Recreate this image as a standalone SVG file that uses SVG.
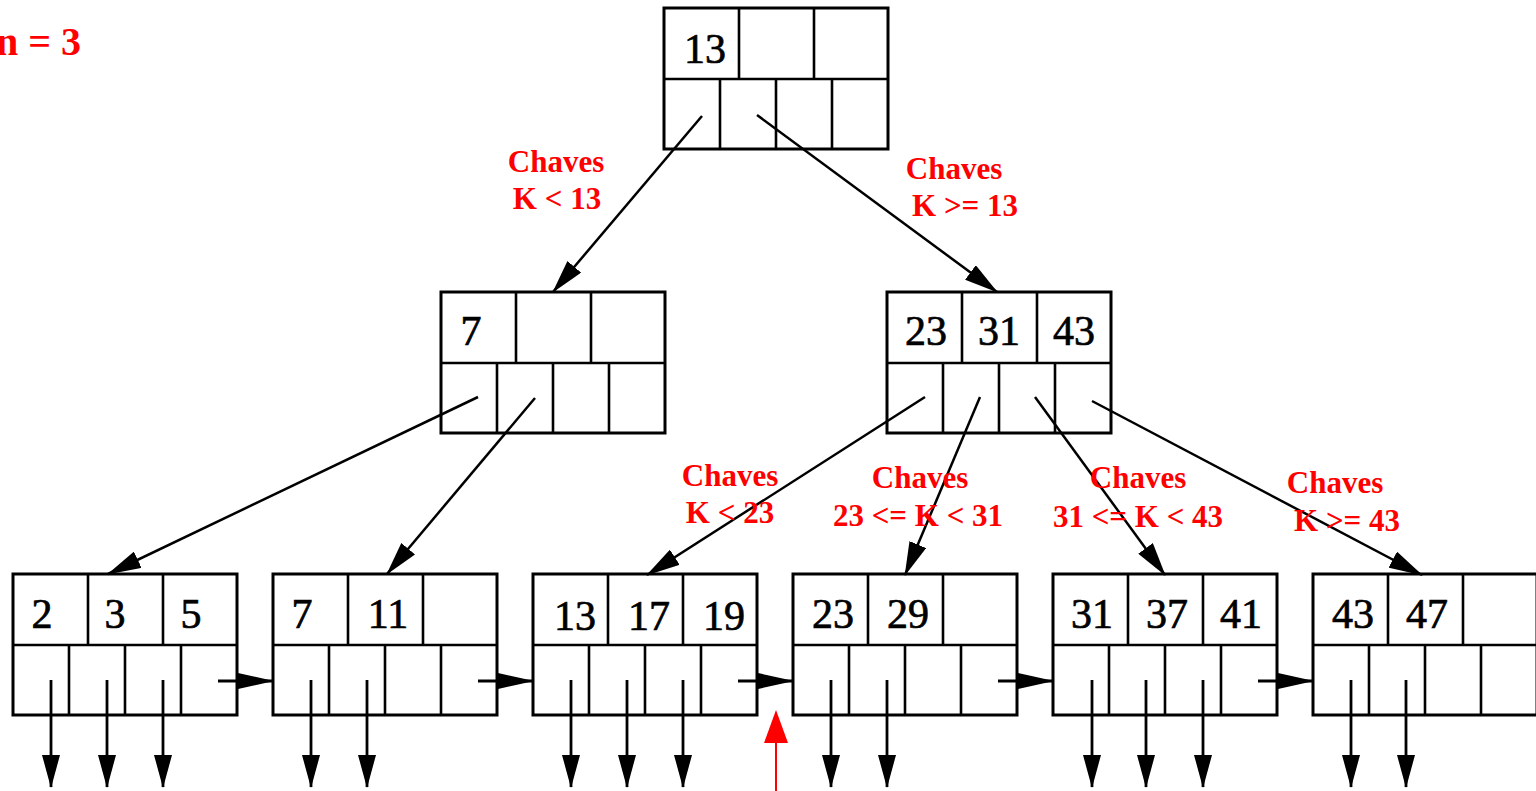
<svg xmlns="http://www.w3.org/2000/svg" width="1536" height="791" viewBox="0 0 1536 791">
  <style>
    .box { fill: #fff; stroke: #000; stroke-width: 3; }
    .div { stroke: #000; stroke-width: 2.6; fill: none; }
    .key { font-family: "Liberation Serif", "Times New Roman", serif; font-size: 42px; fill: #000; stroke: #000; stroke-width: 0.7; text-anchor: middle; }
    .lbl { font-family: "Liberation Serif", "Times New Roman", serif; font-size: 31px; font-weight: bold; fill: #ff0000; text-anchor: middle; }
    .edge { stroke: #000; stroke-width: 2.5; fill: none; }
    .ptr { stroke: #000; stroke-width: 2.8; fill: none; }
  </style>
  <defs>
    <marker id="tip" markerUnits="userSpaceOnUse" markerWidth="34" markerHeight="18" refX="33" refY="9" orient="auto">
      <path d="M0,0 L34,9 L0,18 z" fill="#000"/>
    </marker>
    <marker id="down" markerUnits="userSpaceOnUse" markerWidth="33" markerHeight="18" refX="32" refY="9" orient="auto">
      <path d="M0,0 L33,9 L0,18 z" fill="#000"/>
    </marker>
    <marker id="next" markerUnits="userSpaceOnUse" markerWidth="36" markerHeight="16" refX="35" refY="8" orient="auto">
      <path d="M0,0 L36,8 L0,16 z" fill="#000"/>
    </marker>
    <!-- a node: 3 key cells on top, 4 pointer cells below -->
    <g id="node">
      <rect class="box" x="0" y="0" width="224" height="141"/>
      <path class="div" d="M0,71 H224 M75,0 V71 M150,0 V71 M56,71 V141 M112,71 V141 M168,71 V141"/>
    </g>
  </defs>

  <rect width="1536" height="791" fill="#fff"/>

  <text class="lbl" x="-4" y="55" style="font-size:40px;text-anchor:start">n = 3</text>

  <!-- root -->
  <g id="root">
    <use href="#node" x="664" y="8"/>
    <text class="key" x="705" y="63">13</text>
  </g>

  <!-- inner nodes -->
  <g id="inner-left">
    <use href="#node" x="441" y="292"/>
    <text class="key" x="471" y="345">7</text>
  </g>
  <g id="inner-right">
    <use href="#node" x="887" y="292"/>
    <text class="key" x="926" y="345">23</text>
    <text class="key" x="999" y="345">31</text>
    <text class="key" x="1074" y="345">43</text>
  </g>

  <!-- leaves -->
  <g id="leaf-1">
    <use href="#node" x="13" y="574"/>
    <text class="key" x="42" y="628">2</text>
    <text class="key" x="115" y="628">3</text>
    <text class="key" x="191" y="628">5</text>
  </g>
  <g id="leaf-2">
    <use href="#node" x="273" y="574"/>
    <text class="key" x="302" y="628">7</text>
    <text class="key" x="388" y="628">11</text>
  </g>
  <g id="leaf-3">
    <use href="#node" x="533" y="574"/>
    <text class="key" x="575" y="630">13</text>
    <text class="key" x="649" y="630">17</text>
    <text class="key" x="724" y="630">19</text>
  </g>
  <g id="leaf-4">
    <use href="#node" x="793" y="574"/>
    <text class="key" x="833" y="628">23</text>
    <text class="key" x="908" y="628">29</text>
  </g>
  <g id="leaf-5">
    <use href="#node" x="1053" y="574"/>
    <text class="key" x="1092" y="628">31</text>
    <text class="key" x="1167" y="628">37</text>
    <text class="key" x="1241" y="628">41</text>
  </g>
  <g id="leaf-6">
    <use href="#node" x="1313" y="574"/>
    <text class="key" x="1353" y="628">43</text>
    <text class="key" x="1427" y="628">47</text>
  </g>

  <!-- connectors -->
  <g id="connectors">
    <line class="edge" x1="702" y1="116" x2="553" y2="292" marker-end="url(#tip)"/>
    <line class="edge" x1="757" y1="115" x2="997" y2="292" marker-end="url(#tip)"/>
    <line class="edge" x1="478" y1="397" x2="108" y2="574" marker-end="url(#tip)"/>
    <line class="edge" x1="535" y1="398" x2="387" y2="574" marker-end="url(#tip)"/>
    <line class="edge" x1="925" y1="397" x2="647" y2="575" marker-end="url(#tip)"/>
    <line class="edge" x1="980" y1="397" x2="905" y2="575" marker-end="url(#tip)"/>
    <line class="edge" x1="1035" y1="397" x2="1165" y2="575" marker-end="url(#tip)"/>
    <line class="edge" x1="1092" y1="401" x2="1422" y2="575" marker-end="url(#tip)"/>

    <!-- record pointers -->
    <g class="ptr">
      <line x1="51" y1="680" x2="51" y2="787" marker-end="url(#down)"/>
      <line x1="107" y1="680" x2="107" y2="787" marker-end="url(#down)"/>
      <line x1="163" y1="680" x2="163" y2="787" marker-end="url(#down)"/>
      <line x1="311" y1="680" x2="311" y2="787" marker-end="url(#down)"/>
      <line x1="367" y1="680" x2="367" y2="787" marker-end="url(#down)"/>
      <line x1="571" y1="680" x2="571" y2="787" marker-end="url(#down)"/>
      <line x1="627" y1="680" x2="627" y2="787" marker-end="url(#down)"/>
      <line x1="683" y1="680" x2="683" y2="787" marker-end="url(#down)"/>
      <line x1="831" y1="680" x2="831" y2="787" marker-end="url(#down)"/>
      <line x1="887" y1="680" x2="887" y2="787" marker-end="url(#down)"/>
      <line x1="1092" y1="680" x2="1092" y2="787" marker-end="url(#down)"/>
      <line x1="1146" y1="680" x2="1146" y2="787" marker-end="url(#down)"/>
      <line x1="1203" y1="680" x2="1203" y2="787" marker-end="url(#down)"/>
      <line x1="1351" y1="680" x2="1351" y2="787" marker-end="url(#down)"/>
      <line x1="1406" y1="680" x2="1406" y2="787" marker-end="url(#down)"/>
    </g>

    <!-- sibling links -->
    <g class="ptr">
      <line x1="218" y1="681" x2="273" y2="681" marker-end="url(#next)"/>
      <line x1="478" y1="681" x2="533" y2="681" marker-end="url(#next)"/>
      <line x1="738" y1="681" x2="793" y2="681" marker-end="url(#next)"/>
      <line x1="998" y1="681" x2="1053" y2="681" marker-end="url(#next)"/>
      <line x1="1258" y1="681" x2="1313" y2="681" marker-end="url(#next)"/>
    </g>
  </g>

  <!-- range labels -->
  <g id="labels">
    <text class="lbl" x="556" y="172">Chaves</text>
    <text class="lbl" x="557" y="209">K &lt; 13</text>
    <text class="lbl" x="954" y="179">Chaves</text>
    <text class="lbl" x="965" y="216">K &gt;= 13</text>
    <text class="lbl" x="730" y="486">Chaves</text>
    <text class="lbl" x="730" y="523">K &lt; 23</text>
    <text class="lbl" x="920" y="488">Chaves</text>
    <text class="lbl" x="918" y="526">23 &lt;= K &lt; 31</text>
    <text class="lbl" x="1138" y="488">Chaves</text>
    <text class="lbl" x="1138" y="527">31 &lt;= K &lt; 43</text>
    <text class="lbl" x="1335" y="493">Chaves</text>
    <text class="lbl" x="1347" y="531">K &gt;= 43</text>
  </g>

  <!-- red marker arrow -->
  <g id="marker-arrow">
    <line x1="776" y1="740" x2="776" y2="791" stroke="#ff0000" stroke-width="2"/>
    <polygon points="776,710 788,743 764,743" fill="#ff0000"/>
  </g>
</svg>
